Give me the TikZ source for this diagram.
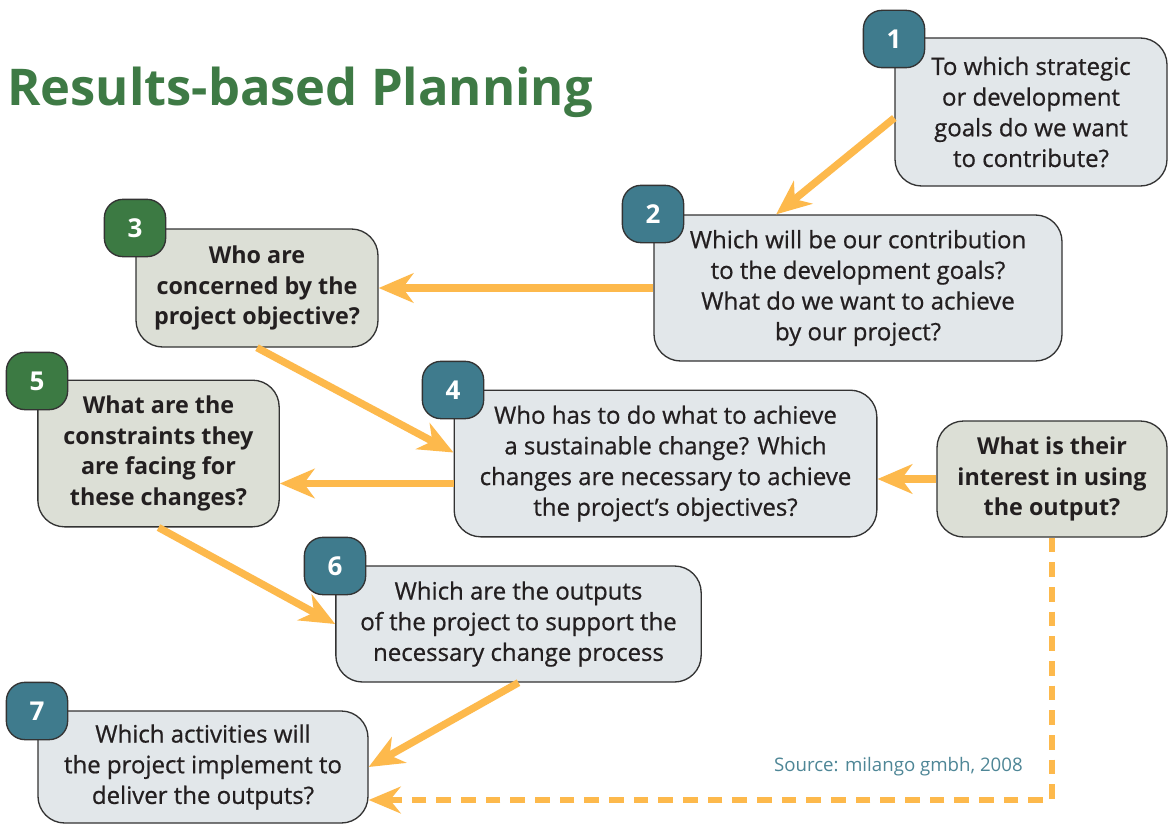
\documentclass[tikz,border=0pt]{standalone}
\usepackage{fontspec}
\setmainfont{Open Sans}
\newfontfamily\medfont{Open Sans}[FakeBold=0.7]
\usetikzlibrary{arrows.meta,calc}
\definecolor{boxblue}{HTML}{E2E7EA}
\definecolor{boxgreen}{HTML}{DCDFD6}
\definecolor{badgeblue}{HTML}{3F7B8D}
\definecolor{badgegreen}{HTML}{3C7A43}
\definecolor{arr}{HTML}{FDB94C}
\definecolor{titlegreen}{HTML}{3E7A45}
\definecolor{srcblue}{HTML}{4E8696}
\definecolor{edge}{HTML}{333333}
\definecolor{txt}{HTML}{231F20}
\tikzset{
  qbox/.style={draw=edge, line width=1pt, rounded corners=20pt, align=center, inner sep=0pt, text=txt},
  bluebox/.style={qbox, fill=boxblue, font=\medfont\fontsize{18}{23}\selectfont},
  greenbox/.style={qbox, fill=boxgreen, font=\bfseries\fontsize{17.5}{23}\selectfont},
  badge/.style={draw=edge, line width=1pt, rounded corners=14pt, minimum width=46pt, minimum height=43pt, inner sep=0pt, text=white, font=\bfseries\fontsize{19.5}{22}\selectfont},
  bbadge/.style={badge, fill=badgeblue},
  gbadge/.style={badge, fill=badgegreen},
  flow/.style={draw=arr, line width=5.5pt, -{Stealth[length=26pt,width=22pt,inset=8pt]}},
  dflow/.style={draw=arr, line width=4.5pt, dash pattern=on 11pt off 7.5pt, -{Stealth[length=24pt,width=20pt,inset=8pt]}}
}
\begin{document}
\begin{tikzpicture}[x=0.75pt,y=-0.75pt]
\useasboundingbox (0,0) rectangle (1174,824);
\fill[white] (0,0) rectangle (1174,824);
\node[anchor=base west, text=titlegreen, font=\bfseries\fontsize{38}{44}\selectfont, inner sep=0pt] (title) at (7,105) {Results-based Planning};

\node[bluebox, minimum width=204pt, minimum height=111pt] (b1) at (1031,112) {To which strategic\\or development\\goals do we want\\to contribute?};
\node[bluebox, minimum width=306pt, minimum height=109.5pt] (b2) at (858,288) {Which will be our contribution\\to the development goals?\\What do we want to achieve\\by our project?};
\node[greenbox, minimum width=181.5pt, minimum height=88.5pt] (b3) at (257,288) {Who are\\concerned by the\\project objective?};
\node[bluebox, minimum width=317pt, minimum height=110pt] (b4) at (665.5,463.5) {Who has to do what to achieve\\a sustainable change? Which\\changes are necessary to achieve\\the project’s objectives?};
\node[greenbox, minimum width=181pt, minimum height=110pt] (b5) at (158.5,453.5) {What are the\\constraints they\\are facing for\\these changes?};
\node[greenbox, minimum width=172.5pt, minimum height=87pt] (bi) at (1052,479) {What is their\\interest in using\\the output?};
\node[bluebox, minimum width=274pt, minimum height=87pt] (b6) at (518.5,624) {Which are the outputs\\of the project to support the\\necessary change process};
\node[bluebox, minimum width=247.5pt, minimum height=84pt] (b7) at (203,767) {Which activities will\\the project implement to\\deliver the outputs?};

\node[bbadge] (n1) at (894,39) {1};
\node[bbadge] (n2) at (653,214) {2};
\node[gbadge] (n3) at (135,228) {3};
\node[bbadge] (n4) at (453,390) {4};
\node[gbadge] (n5) at (37,381) {5};
\node[bbadge] (n6) at (335,566) {6};
\node[bbadge] (n7) at (37,711) {7};

\node[anchor=east, text=srcblue, font=\fontsize{14}{16}\selectfont, inner sep=0pt] (src) at (1023,767) {Source: milango gmbh, 2008};

\coordinate (t12) at ($(b2.north west)!0.3!(b2.north east)$);
\draw[flow] ($(b1.west)+(0,6)$) -- (t12);
\draw[flow] (b2.west) -- (b3.east);
\draw[flow] (b3.south) -- ($(b4.west)+(0,-11)$);
\coordinate (s45) at ($(b4.west)+(0,20)$);
\draw[flow] (s45) -- (b5.east |- s45);
\draw[flow] (bi.west) -- (b4.east |- bi.west);
\draw[flow] (b5.south) -- (b6.west);
\draw[flow] (b6.south) -- (b7.east);
\coordinate (d7) at ($(b7.east)+(0,33)$);
\draw[dflow] (bi.south) |- (d7);
\end{tikzpicture}
\end{document}
